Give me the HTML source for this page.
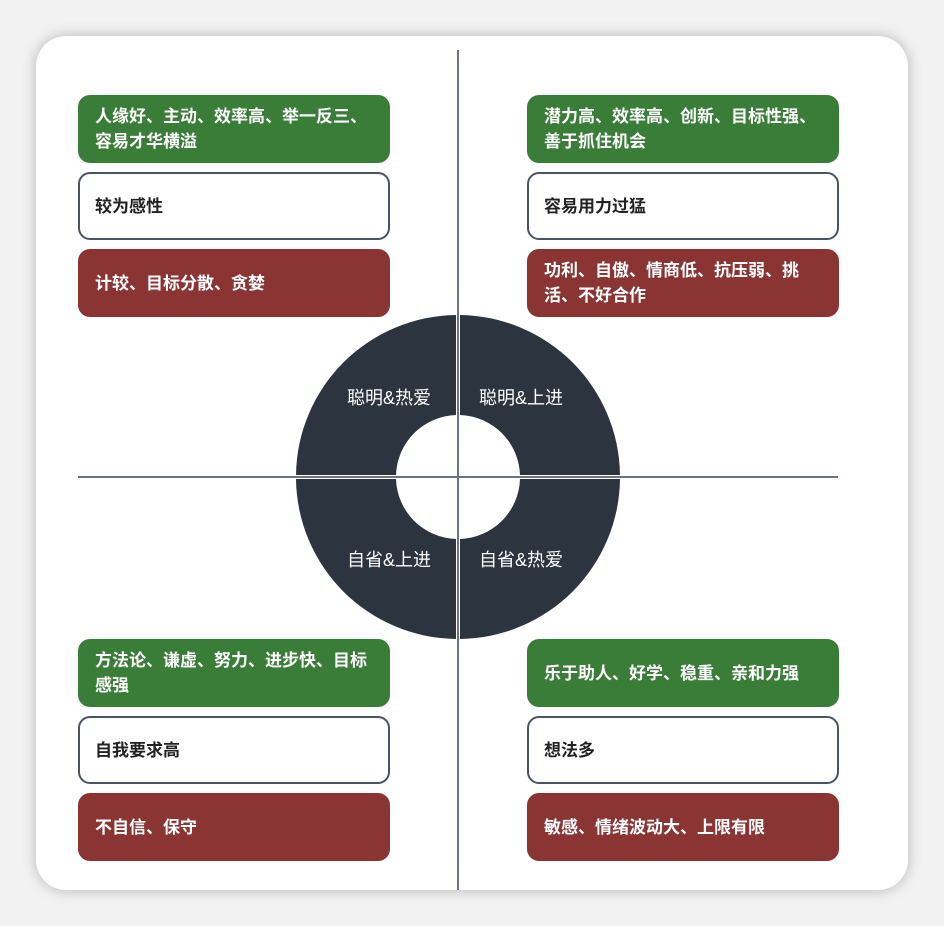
<!DOCTYPE html>
<html><head><meta charset="utf-8"><style>
body{margin:0;width:944px;height:926px;background:#f2f2f2;position:relative;overflow:hidden;font-family:"Liberation Sans","Noto Sans CJK SC",sans-serif}
.card{position:absolute;left:36px;top:36px;width:872px;height:854px;background:#fff;border-radius:30px;box-shadow:0 0 14px rgba(0,0,0,.25)}
.b{position:absolute;width:312px;height:68px;box-sizing:border-box;border-radius:12px;padding:0 21px 0 17px;display:flex;align-items:center;font-size:17px;font-weight:600;line-height:25px;color:#fff}
.g{background:#3a7d38}.r{background:#8a3434}.w{background:#fff;border:2px solid #4a5563;color:#222;padding-left:15px}
.L{left:78px}.R{left:527px}
</style></head><body>
<div class="card"></div>
<svg style="position:absolute;left:0;top:0" width="944" height="926">
<g fill="#2b343f">
<path d="M456 315 A162 162 0 0 0 296 475 L396 475 A62 62 0 0 1 456 415Z"/>
<path d="M460 315 A162 162 0 0 1 620 475 L520 475 A62 62 0 0 0 460 415Z"/>
<path d="M456 639 A162 162 0 0 1 296 479 L396 479 A62 62 0 0 0 456 539Z"/>
<path d="M460 639 A162 162 0 0 0 620 479 L520 479 A62 62 0 0 1 460 539Z"/>
</g>
<line x1="458" y1="50" x2="458" y2="890" stroke="#6b7480" stroke-width="2"/>
<line x1="78" y1="477" x2="838" y2="477" stroke="#6b7480" stroke-width="2"/>
<g fill="#fff" font-size="18" font-family="Liberation Sans,Noto Sans CJK SC,sans-serif">
<text x="347" y="404">聪明&amp;热爱</text>
<text x="479" y="404">聪明&amp;上进</text>
<text x="347" y="566">自省&amp;上进</text>
<text x="479" y="566">自省&amp;热爱</text>
</g>
</svg>
<div class="b g L" style="top:95px">人缘好、主动、效率高、举一反三、容易才华横溢</div>
<div class="b w L" style="top:172px">较为感性</div>
<div class="b r L" style="top:249px">计较、目标分散、贪婪</div>
<div class="b g R" style="top:95px">潜力高、效率高、创新、目标性强、善于抓住机会</div>
<div class="b w R" style="top:172px">容易用力过猛</div>
<div class="b r R" style="top:249px">功利、自傲、情商低、抗压弱、挑活、不好合作</div>
<div class="b g L" style="top:639px">方法论、谦虚、努力、进步快、目标感强</div>
<div class="b w L" style="top:716px">自我要求高</div>
<div class="b r L" style="top:793px">不自信、保守</div>
<div class="b g R" style="top:639px">乐于助人、好学、稳重、亲和力强</div>
<div class="b w R" style="top:716px">想法多</div>
<div class="b r R" style="top:793px">敏感、情绪波动大、上限有限</div>
</body></html>
